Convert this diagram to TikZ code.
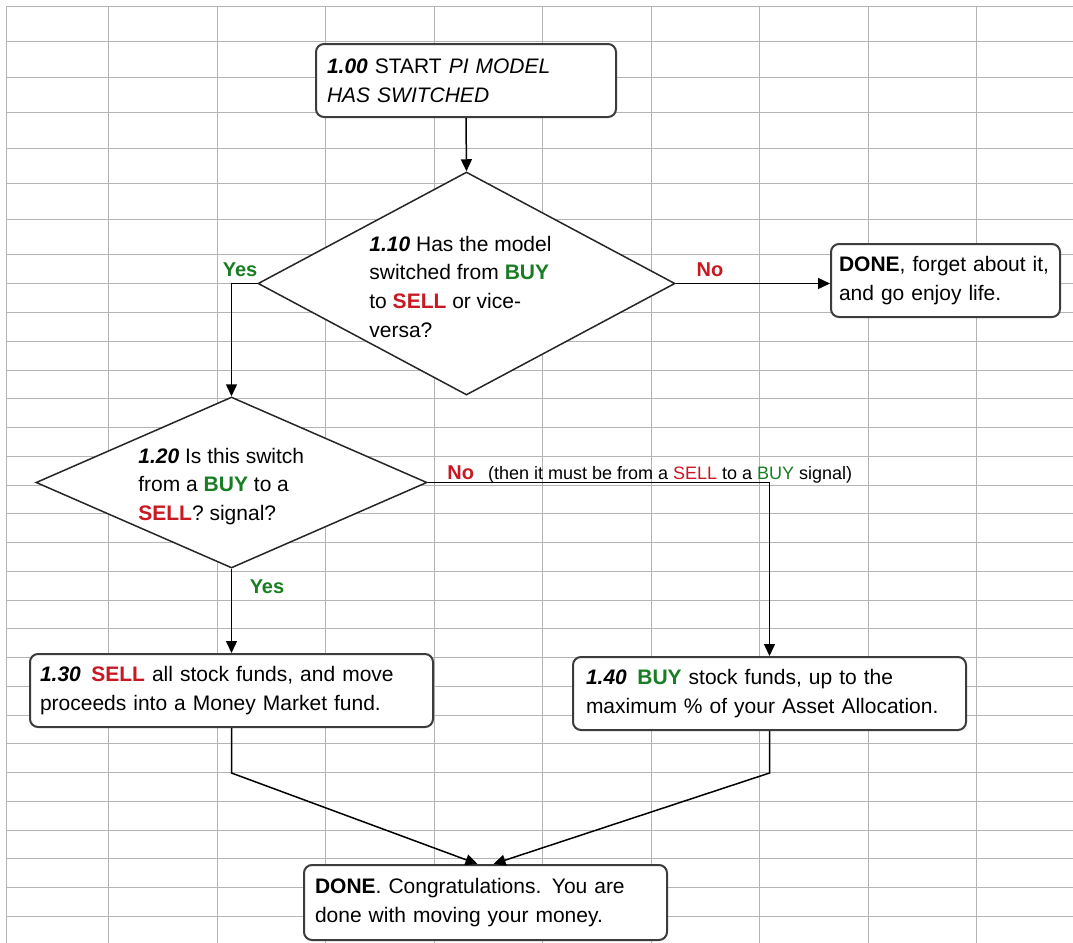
\documentclass[tikz,border=0pt]{standalone}
\usepackage{fontspec}
\setmainfont{Liberation Sans}
\usetikzlibrary{shapes.geometric,arrows.meta,calc}
\definecolor{sell}{RGB}{200,25,35}
\definecolor{buy}{RGB}{25,125,35}
\definecolor{gridc}{RGB}{180,180,180}
\definecolor{boxc}{RGB}{60,60,60}
\begin{document}
\begin{tikzpicture}[x=0.5pt,y=-0.5pt,
  gridline/.style={gridc, line width=0.5pt},
  stepbox/.style={draw=boxc, line width=1pt, fill=white, rounded corners=4pt, rectangle, align=left, inner ysep=0pt, minimum height=36.5pt, font=\fontsize{10.5}{14.35}\selectfont},
  decision/.style={diamond, draw=black!85, line width=0.75pt, fill=white, inner sep=0pt},
  dtext/.style={anchor=north west, inner sep=0pt, align=left, font=\fontsize{10.5}{14.35}\selectfont},
  conn/.style={draw=black, line width=0.75pt},
  arr/.style={conn, -{Triangle[length=6pt,width=5.5pt]}},
  yeslab/.style={text=buy, font=\fontsize{10}{12}\selectfont\bfseries, inner sep=0pt},
  nolab/.style={text=sell, font=\fontsize{10}{12}\selectfont\bfseries, inner sep=0pt},
]
\useasboundingbox (0,0) rectangle (1073,943);
\fill[white] (0,0) rectangle (1073,943);
% spreadsheet grid
\foreach \x in {6,108.5,217,325.5,434,542.5,651,759.5,868,976.5}
  \draw[gridline] (\x,6) -- (\x,943);
\foreach \k in {0,...,7}
  \draw[gridline] (6,{6+35.57*\k}) -- (1073,{6+35.57*\k});
\foreach \k in {1,...,23}
  \draw[gridline] (6,{255+28.75*\k}) -- (1073,{255+28.75*\k});

% boxes
\node[stepbox, minimum width=150pt, text width=139pt, inner xsep=5.5pt] (n100) at (466,80.5)
  {\textbf{\textit{1.00}} START \textit{PI MODEL}\\\textit{HAS SWITCHED}};
\node[stepbox, minimum width=114.5pt, text width=106.5pt, inner xsep=4pt] (done1) at (945.5,280.5)
  {\textbf{DONE}, forget about it,\\and go enjoy life.};
\node[stepbox, minimum width=201.5pt, text width=191.5pt, inner xsep=5pt] (n130) at (231.5,690.5)
  {\textbf{\textit{1.30}}\, \textcolor{sell}{\textbf{SELL}} all stock funds, and move\\proceeds into a Money Market fund.};
\node[stepbox, minimum width=196.5pt, text width=183.5pt, inner xsep=6.5pt] (n140) at (769.5,693.5)
  {\textbf{\textit{1.40}}\, \textcolor{buy}{\textbf{BUY}} stock funds, up to the\\maximum \% of your Asset Allocation.};
\node[stepbox, minimum width=181.5pt, minimum height=37.5pt, text width=170.5pt, inner xsep=5.5pt] (done2) at (485.5,902.5)
  {\textbf{DONE}. Congratulations. You are\\done with moving your money.};

% decisions
\node[decision, minimum width=208.5pt, minimum height=111.5pt] (d110) at (466.5,283.5) {};
\node[decision, minimum width=195.5pt, minimum height=85.5pt] (d120) at (231.5,482.5) {};
\node[dtext] (t110) at (369,235.5)
  {\textbf{\textit{1.10}} Has the model\\switched from \textcolor{buy}{\textbf{BUY}}\\to \textcolor{sell}{\textbf{SELL}} or vice-\\versa?};
\node[dtext] (t120) at (138,447.5)
  {\textbf{\textit{1.20}} Is this switch\\from a \textcolor{buy}{\textbf{BUY}} to a\\\textcolor{sell}{\textbf{SELL}}? signal?};

% connectors
\draw[arr] (n100.south) -- (d110.north);
\coordinate (y1) at (d120.north |- d110.west);
\draw[arr] (d110.west) -- (y1) -- (d120.north);
\draw[arr] (d110.east) -- (d110.east -| done1.west);
\coordinate (n2) at (n140.north |- d120.east);
\draw[arr] (d120.east) -- (n2) -- (n140.north);
\draw[arr] (d120.south) -- (n130.north);
\coordinate (m1) at ([xshift=-4pt]done2.north);
\coordinate (m2) at ([xshift=4pt]done2.north);
\draw[arr] (n130.south) -- ++(0,45) -- (m1);
\draw[arr] (n140.south) -- ++(0,42) -- (m2);

% labels
\node[yeslab] (yes1) at (240,270) {Yes};
\node[nolab] (no1) at (710,270) {No};
\node[yeslab] (yes2) at (267,587) {Yes};
\node[anchor=base west, inner sep=0pt] (no2) at (447,479)
  {{\fontsize{10}{12}\selectfont\bfseries\color{sell}No}\hspace{7pt}{\fontsize{9}{11}\selectfont(then it must be from a \textcolor{sell}{SELL} to a \textcolor{buy}{BUY} signal)}};
\end{tikzpicture}
\end{document}
